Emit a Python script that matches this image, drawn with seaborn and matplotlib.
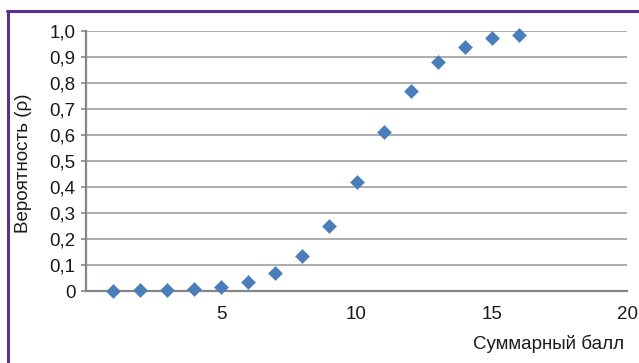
import matplotlib
matplotlib.use("Agg")
import matplotlib.pyplot as plt
import seaborn as sns
import pandas as pd
from matplotlib.lines import Line2D

# Data
scores = [1, 2, 3, 4, 5, 6, 7, 8, 9, 10, 11, 12, 13, 14, 15, 16]
probability = [0.001, 0.002, 0.004, 0.008, 0.017, 0.034, 0.068, 0.136,
               0.250, 0.419, 0.610, 0.769, 0.880, 0.940, 0.972, 0.985]

x_ticks = [5, 10, 15, 20]
y_ticks = [0.0, 0.1, 0.2, 0.3, 0.4, 0.5, 0.6, 0.7, 0.8, 0.9, 1.0]
y_tick_labels = ["0", "0,1", "0,2", "0,3", "0,4", "0,5", "0,6", "0,7", "0,8", "0,9", "1,0"]

df = pd.DataFrame({"score": scores, "p": probability})

sns.set_style("white")
plt.rcParams['font.family'] = ['Liberation Sans', 'DejaVu Sans']

FS = 13.5

fig = plt.figure(figsize=(6.39, 3.63), dpi=100)
ax = fig.add_axes([86 / 639, 1 - 291 / 363, (627 - 86) / 639, 260 / 363])

sns.scatterplot(data=df, x="score", y="p", marker="D", s=52,
                color="#4A7EBB", edgecolor="#4A7EBB", linewidth=0.3,
                ax=ax, zorder=3, clip_on=False)

ax.set_xlim(0, 20)
ax.set_ylim(0, 1)
ax.set_xticks(x_ticks)
ax.set_xticklabels([str(t) for t in x_ticks])
ax.set_yticks(y_ticks)
ax.set_yticklabels(y_tick_labels)

ax.yaxis.grid(True, color="#A6A6A6", linewidth=1.3)
ax.xaxis.grid(False)
ax.set_axisbelow(True)

for side in ["top", "right"]:
    ax.spines[side].set_visible(False)
for side in ["left", "bottom"]:
    ax.spines[side].set_color("#868686")
    ax.spines[side].set_linewidth(1.6)

ax.tick_params(axis="x", length=0, pad=11, labelsize=FS, labelcolor="#1a1a1a")
ax.tick_params(axis="y", length=3.5, width=1.2, color="#868686", pad=4,
               labelsize=FS, labelcolor="#1a1a1a", left=True)

ax.set_xlabel("")
ax.set_ylabel("")
fig.text(24 / 639, 1 - 163 / 363, "Вероятность (ρ)", rotation=90,
         ha="center", va="center", fontsize=FS, color="#1a1a1a")
fig.text(624 / 639, 1 - 344 / 363, "Суммарный балл",
         ha="right", va="center", fontsize=FS, color="#1a1a1a")

# purple frame on the left and top edges
frame_color = "#5B2E91"
fig.add_artist(Line2D([8 / 639, 8 / 639], [0, 1 - 11 / 363],
                      transform=fig.transFigure, color=frame_color, linewidth=2.2))
fig.add_artist(Line2D([7 / 639, 1], [1 - 11 / 363, 1 - 11 / 363],
                      transform=fig.transFigure, color=frame_color, linewidth=2.2))

fig.savefig("out.png", dpi=100)
